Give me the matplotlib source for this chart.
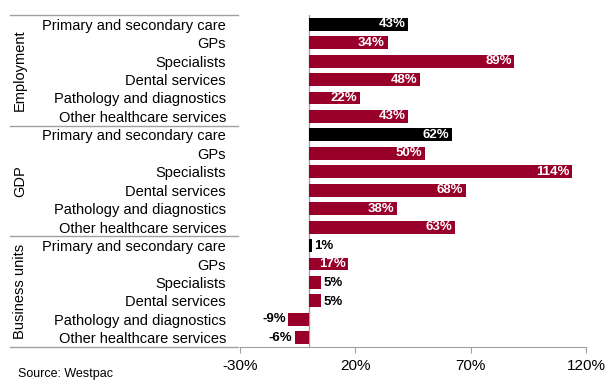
import matplotlib
matplotlib.use("Agg")
import matplotlib.pyplot as plt
from matplotlib.lines import Line2D
from matplotlib.transforms import blended_transform_factory

plt.rcParams['font.family'] = ['Liberation Sans', 'DejaVu Sans']

groups = ["Employment", "GDP", "Business units"]
categories = ["Primary and secondary care", "GPs", "Specialists",
              "Dental services", "Pathology and diagnostics",
              "Other healthcare services"]
employment = [43, 34, 89, 48, 22, 43]
gdp = [62, 50, 114, 68, 38, 63]
business = [1, 17, 5, 5, -9, -6]
xticks = [-30, 20, 70, 120]

RED = '#990029'
GREY = '#a0a0a0'

values = employment + gdp + business
labels = categories * 3
colors = [('black' if c == categories[0] else RED) for c in labels]
ypos = list(range(len(values)))

fig = plt.figure(figsize=(6.09, 3.81), dpi=100)
ax = fig.add_axes([240 / 609, 1 - 347 / 381, 346 / 609, 332 / 381])

ax.axvline(0, color=GREY, lw=1, zorder=1)
ax.barh(ypos, values, height=0.7, color=colors, zorder=2)

for y, v in zip(ypos, values):
    if v >= 10:
        ax.text(v - 1.2, y, f"{v}%", ha='right', va='center', color='white',
                fontsize=9.5, fontweight='bold', zorder=3)
    elif v >= 0:
        ax.text(v + 1.2, y + 0.05, f"{v}%", ha='left', va='center',
                color='black', fontsize=9.5, fontweight='bold', zorder=3)
    else:
        ax.text(v - 1.2, y, f"{v}%", ha='right', va='center', color='black',
                fontsize=9.5, fontweight='bold', zorder=3)

ax.set_xlim(-30, 120)
ax.set_ylim(len(values) - 0.5, -0.5)
ax.set_xticks(xticks)
ax.set_xticklabels([f"{t}%" for t in xticks], fontsize=11)
ax.set_yticks(ypos)
ax.set_yticklabels(labels, fontsize=10.5)
ax.tick_params(axis='y', length=0, pad=10)
ax.tick_params(axis='x', length=4, color=GREY, pad=5, direction='out')

for s in ['top', 'right', 'left']:
    ax.spines[s].set_visible(False)
ax.spines['bottom'].set_color(GREY)

# group separators and rotated group names on the left
tr = blended_transform_factory(fig.transFigure, ax.transData)
for k in range(len(groups) + 1):
    yl = k * len(categories) - 0.5
    fig.add_artist(Line2D([10 / 609, 238 / 609], [yl, yl], transform=tr,
                          color=GREY, lw=1))
for k, g in enumerate(groups):
    yc = k * len(categories) + (len(categories) - 1) / 2
    fig.text(20 / 609, yc, g, transform=tr, rotation=90, ha='center',
             va='center', fontsize=10.5)

fig.text(18 / 609, 1 - 374 / 381, "Source: Westpac", fontsize=9,
         ha='left', va='center')

fig.savefig("out.png", dpi=100)
